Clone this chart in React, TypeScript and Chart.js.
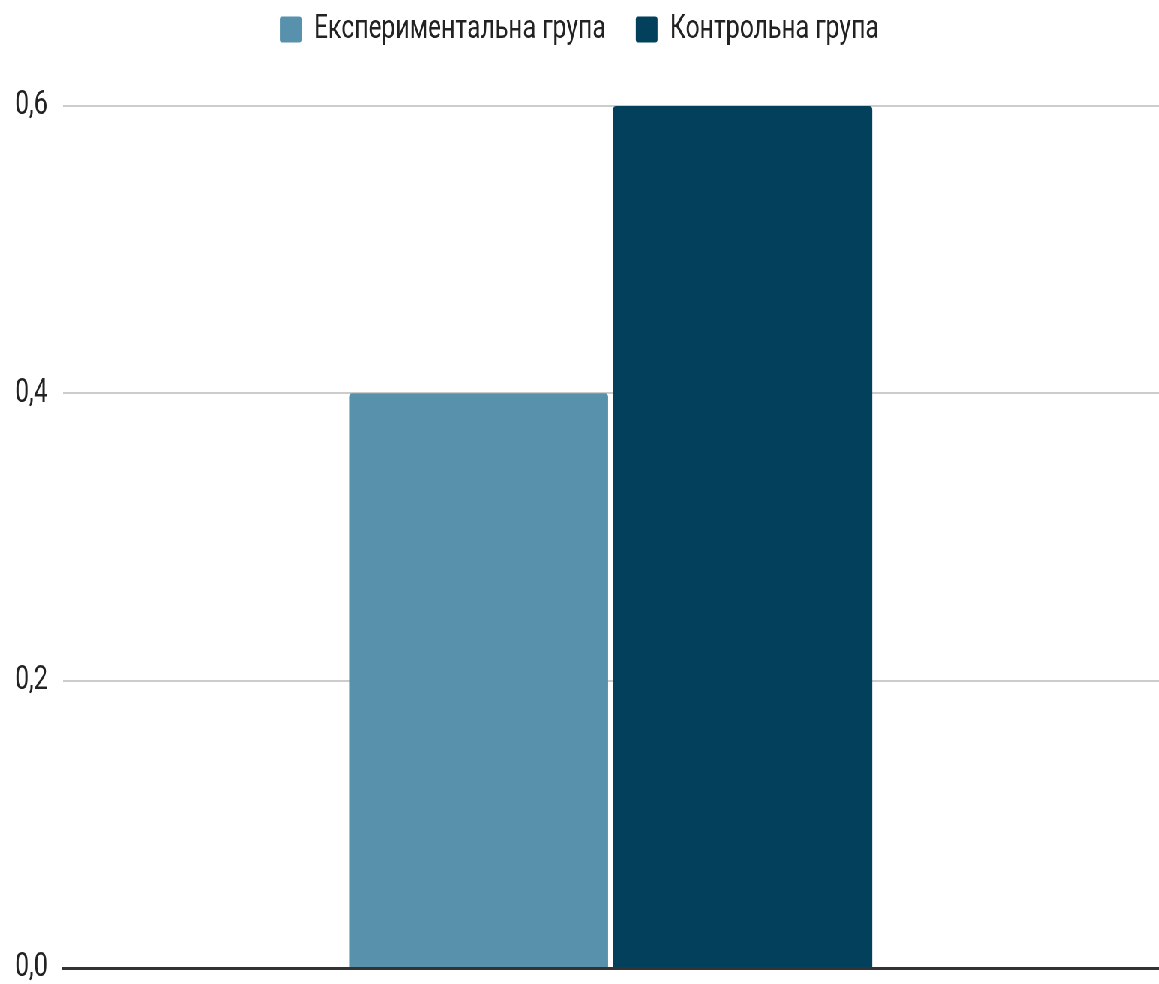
import React, { useEffect, useRef } from "react";
import { Chart, registerables } from "chart.js";

Chart.register(...registerables);

const categories = [""];
const seriesNames = ["Експериментальна група", "Контрольна група"];
const experimentalValues = [0.4];
const controlValues = [0.6];
const seriesColors = ["#5791ac", "#02405c"];
const yTicks = [0, 0.2, 0.4, 0.6];

const SX = 0.75;
const W = 1159;
const H = 984;

const legendSpacer = {
  id: "legendSpacer",
  beforeInit(chart: any) {
    const legend = chart.legend;
    if (!legend) return;
    const origFit = legend.fit.bind(legend);
    legend.fit = function () {
      origFit();
      this.height += 50;
    };
  },
};

export default function App() {
  const ref = useRef<HTMLCanvasElement | null>(null);
  useEffect(() => {
    document.body.style.margin = "0";
    const canvas = ref.current!;
    const chart = new Chart(canvas, {
      type: "bar",
      data: {
        labels: categories,
        datasets: [
          {
            label: seriesNames[0],
            data: experimentalValues,
            backgroundColor: seriesColors[0],
            borderRadius: 4,
            borderSkipped: "bottom",
            categoryPercentage: 0.482,
            barPercentage: 0.981,
          },
          {
            label: seriesNames[1],
            data: controlValues,
            backgroundColor: seriesColors[1],
            borderRadius: 4,
            borderSkipped: "bottom",
            categoryPercentage: 0.482,
            barPercentage: 0.981,
          },
        ],
      },
      options: {
        animation: false,
        responsive: false,
        devicePixelRatio: 1,
        layout: { padding: { top: -27, bottom: 0, left: 0, right: 0 } },
        plugins: {
          tooltip: { enabled: false },
          legend: {
            position: "top",
            labels: {
              font: { family: "Roboto", size: 33 },
              color: "#222222",
              boxWidth: 29,
              boxHeight: 26,
              padding: 40,
              useBorderRadius: true,
              borderRadius: 3,
            },
          },
        },
        scales: {
          x: {
            z: 1,
            grid: { display: false },
            ticks: { display: false },
            border: { display: true, color: "#333333", width: 3 },
            afterFit: (axis: any) => {
              axis.height = 16;
            },
          },
          y: {
            min: 0,
            max: 0.6,
            afterBuildTicks: (axis: any) => {
              axis.ticks = yTicks.map((v) => ({ value: v }));
            },
            afterFit: (axis: any) => {
              axis.paddingTop = 0;
              axis.paddingBottom = 0;
            },
            ticks: {
              font: { family: "Roboto", size: 33 },
              color: "#222222",
              padding: 20,
              callback: (v: any) => Number(v).toFixed(1).replace(".", ","),
            },
            grid: { color: "#cccccc", lineWidth: 2, drawTicks: false },
            border: { display: false },
          },
        },
      },
      plugins: [legendSpacer],
    });
    return () => chart.destroy();
  }, []);
  return (
    <div
      style={{
        position: "fixed",
        left: 0,
        top: 0,
        width: W / SX,
        height: H,
        transform: `scaleX(${SX})`,
        transformOrigin: "0 0",
        background: "#ffffff",
      }}
    >
      <canvas ref={ref} width={Math.round(W / SX)} height={H} />
    </div>
  );
}
